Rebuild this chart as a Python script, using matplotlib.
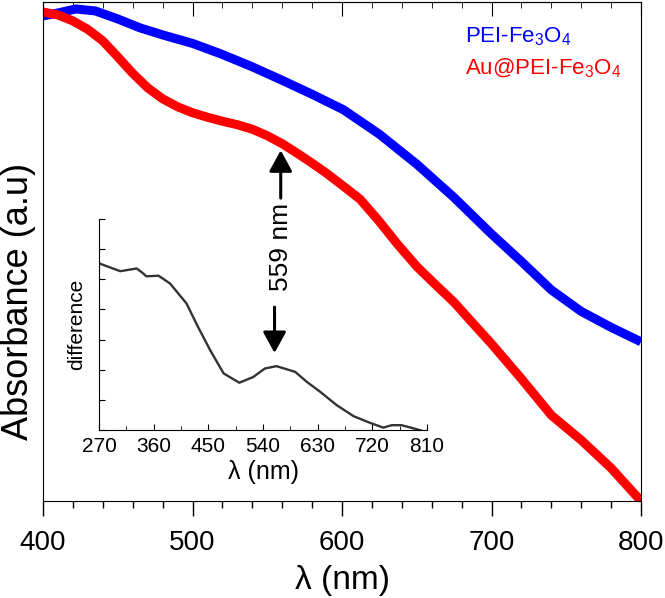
import numpy as np
import matplotlib
matplotlib.use("Agg")
import matplotlib.pyplot as plt
from matplotlib.ticker import MultipleLocator

plt.rcParams['font.family'] = ['Liberation Sans', 'DejaVu Sans']

# main spectra (arbitrary absorbance units)
wl_blue = [400, 410, 422, 435, 450, 465, 480, 500, 519, 540, 560, 580, 601,
           625, 650, 675, 700, 720, 740, 760, 780, 800]
abs_blue = [0.972, 0.978, 0.986, 0.982, 0.966, 0.948, 0.934, 0.917, 0.896,
            0.870, 0.843, 0.815, 0.784, 0.735, 0.675, 0.608, 0.535, 0.480,
            0.423, 0.380, 0.348, 0.319]

wl_red = [400, 410, 420, 430, 440, 450, 460, 470, 480, 490, 500, 510, 520,
          530, 540, 550, 560, 570, 580, 590, 600, 612, 625, 637, 650, 662,
          675, 687, 700, 720, 740, 760, 780, 800]
abs_red = [0.980, 0.974, 0.962, 0.945, 0.922, 0.890, 0.857, 0.828, 0.806,
           0.790, 0.778, 0.769, 0.761, 0.754, 0.745, 0.732, 0.716, 0.697,
           0.677, 0.656, 0.633, 0.605, 0.560, 0.515, 0.470, 0.435, 0.398,
           0.358, 0.315, 0.245, 0.172, 0.122, 0.066, 0.0]

# inset: difference spectrum
wl_diff = [270, 305, 332, 340, 348, 368, 387, 414, 433, 453, 475, 501, 524,
           543, 562, 593, 612, 634, 661, 689, 716, 738, 752, 768, 787, 801]
diff = [5.53, 5.27, 5.36, 5.24, 5.10, 5.12, 4.86, 4.20, 3.42, 2.65, 1.88,
        1.57, 1.76, 2.04, 2.12, 1.93, 1.60, 1.27, 0.83, 0.46, 0.24, 0.08,
        0.16, 0.16, 0.06, -0.02]

peak_wl = 559

fig = plt.figure(figsize=(6.65, 5.98), dpi=100)
ax = fig.add_axes([0.0647, 0.1622, 0.8992, 0.8345])

ax.plot(wl_blue, abs_blue, color='#0000ff', lw=6.5, solid_capstyle='butt')
ax.plot(wl_red, abs_red, color='#ff0000', lw=6.5, solid_capstyle='butt')

ax.set_xlim(400, 800)
ax.set_ylim(0, 1)
ax.set_yticks([])
ax.xaxis.set_major_locator(MultipleLocator(100))
ax.xaxis.set_minor_locator(MultipleLocator(20))
ax.tick_params(axis='x', which='major', direction='out', length=11, width=1,
               labelsize=20, pad=10)
ax.tick_params(axis='x', which='minor', direction='out', length=5, width=1)
top = ax.secondary_xaxis('top')
top.xaxis.set_major_locator(MultipleLocator(100))
top.xaxis.set_minor_locator(MultipleLocator(20))
top.tick_params(axis='x', which='major', direction='in', length=10, labeltop=False)
top.tick_params(axis='x', which='minor', direction='in', length=4)
ax.set_xlabel('λ (nm)', fontsize=24, labelpad=6)
ax.set_ylabel('Absorbance (a.u)', fontsize=26)
ax.yaxis.set_label_coords(-0.012, 0.40)

ax.text(682, 0.930, 'PEI-Fe$_\\mathregular{3}$O$_\\mathregular{4}$', color='#0000ff',
        fontsize=16, ha='left', va='center')
ax.text(682, 0.866, 'Au@PEI-Fe$_\\mathregular{3}$O$_\\mathregular{4}$', color='#ff0000',
        fontsize=16, ha='left', va='center')

arrow_kw = dict(arrowstyle='-|>,head_length=0.4,head_width=0.22', color='black',
                lw=2.2, mutation_scale=32, shrinkA=0, shrinkB=0)

# arrow up to the red curve at the plasmon band
red_at_peak = np.interp(peak_wl, wl_red, abs_red)
ax.annotate('', xy=(peak_wl, red_at_peak - 0.015), xytext=(peak_wl, 0.607),
            arrowprops=arrow_kw)
ax.text(peak_wl, 0.509, '559 nm', rotation=90, fontsize=19, ha='center', va='center')

# inset
ins = fig.add_axes([0.1489, 0.2809, 0.4932, 0.3528])
ins.patch.set_alpha(0)
ins.plot(wl_diff, diff, color='#333333', lw=1.7)
ins.set_xlim(270, 810)
ins.set_ylim(0, 7)
ins.spines['top'].set_visible(False)
ins.spines['right'].set_visible(False)
ins.xaxis.set_major_locator(MultipleLocator(90))
ins.xaxis.set_minor_locator(MultipleLocator(45))
ins.yaxis.set_major_locator(MultipleLocator(1))
ins.set_yticklabels([])
ins.tick_params(which='both', direction='in', labelsize=15, pad=5)
ins.tick_params(which='major', length=4)
ins.tick_params(which='minor', length=3)
ins.set_xlabel('λ (nm)', fontsize=18, labelpad=3)
ins.set_ylabel('difference', fontsize=15, labelpad=4)

diff_at_peak = np.interp(peak_wl, wl_diff, diff)
ins.annotate('', xy=(peak_wl, diff_at_peak + 0.45), xytext=(peak_wl, diff_at_peak + 1.97),
             arrowprops=arrow_kw)

fig.savefig('out.png', dpi=100)
